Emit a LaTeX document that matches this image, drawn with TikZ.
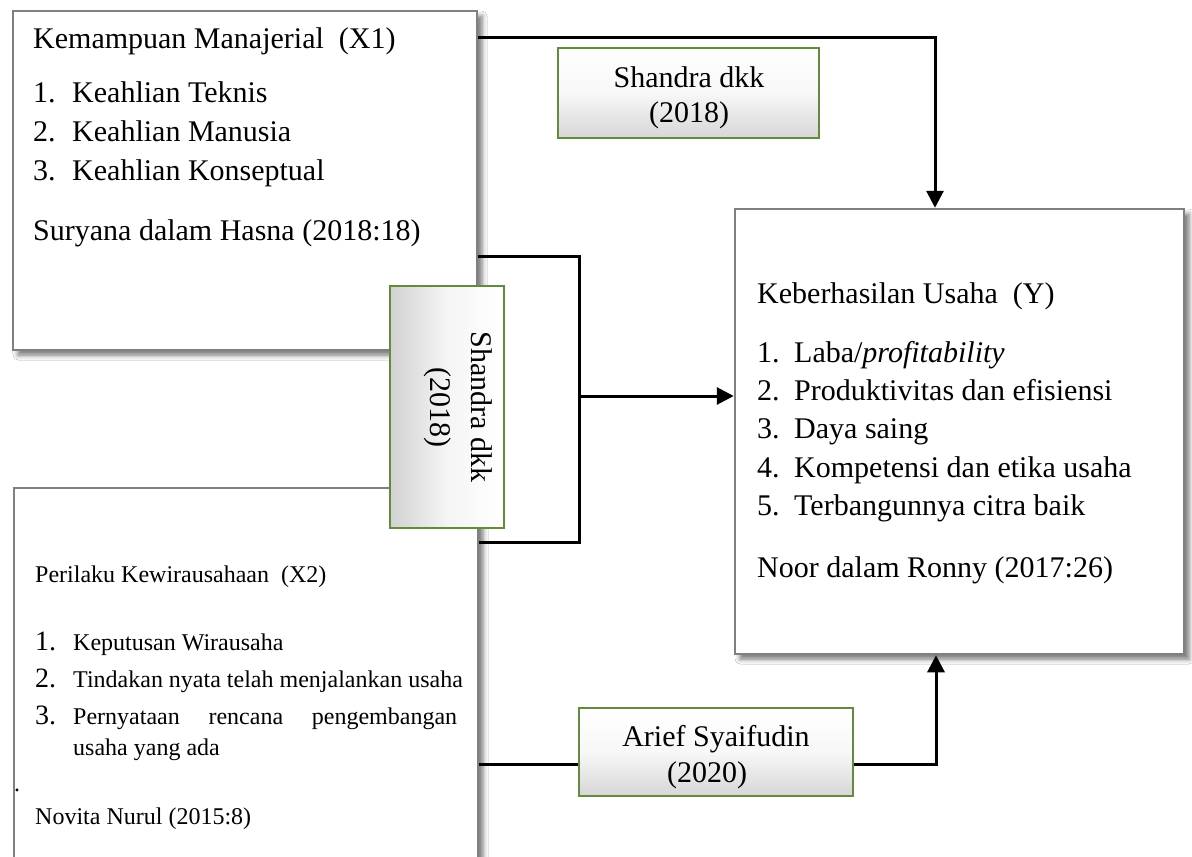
\documentclass[tikz,border=0pt]{standalone}
\usepackage{fontspec}
\usepackage{graphicx}
\setmainfont{Liberation Serif}
\usetikzlibrary{arrows.meta,shadows.blur}
\definecolor{boxgray}{RGB}{128,128,128}
\definecolor{lblgreen}{RGB}{98,140,58}
\tikzset{
  bigbox/.style={draw=boxgray, line width=2.5pt, fill=white, rectangle, inner sep=0pt,
    blur shadow={shadow xshift=5pt, shadow yshift=-5pt, shadow blur radius=5pt, shadow opacity=55}},
  lbl/.style={draw=lblgreen, line width=2.5pt, inner sep=0pt, rectangle},
  hlbl/.style={lbl, top color=white, bottom color=black!16, middle color=black!3},
  vlbl/.style={lbl, left color=black!18, right color=white, middle color=black!4},
  ltxt/.style={anchor=base, inner sep=0pt, font=\fontsize{30}{35}\selectfont},
  txt/.style={anchor=base west, inner sep=0pt, font=\fontsize{30}{36}\selectfont},
  stxt/.style={anchor=base west, inner sep=0pt, font=\fontsize{24}{28}\selectfont},
  ntxt/.style={anchor=base west, inner sep=0pt, font=\fontsize{28}{30}\selectfont},
  conn/.style={line width=3pt, black},
  arr/.style={conn, -{Triangle[length=17pt 0 0,width=17pt 0 0]}},
}
\begin{document}
\begin{tikzpicture}[x=1pt,y=-1pt]
\path[use as bounding box] (0,0) rectangle (1192,857);
\fill[white] (0,0) rectangle (1192,857);
\clip (0,0) rectangle (1192,857);

% main boxes
\node[bigbox, minimum width=464pt, minimum height=339pt] (x1) at (245,180.5) {};
\node[bigbox, minimum width=464pt, minimum height=400pt] (x2) at (246,688) {};
\node[bigbox, minimum width=449pt, minimum height=445pt] (y) at (959.5,431.5) {};

% X1 text
\node[txt] (x1t) at (33,48) {Kemampuan Manajerial\ \ (X1)};
\node[txt] (x1n1) at (33,102) {1.};
\node[txt] (x1i1) at (72,102) {Keahlian Teknis};
\node[txt] (x1n2) at (33,141) {2.};
\node[txt] (x1i2) at (72,141) {Keahlian Manusia};
\node[txt] (x1n3) at (33,180) {3.};
\node[txt] (x1i3) at (72,180) {Keahlian Konseptual};
\node[txt] (x1s) at (33,240) {Suryana dalam Hasna (2018:18)};

% Y text
\node[txt] (yt) at (757,303) {Keberhasilan Usaha\ \ (Y)};
\node[txt] (yn1) at (757,362) {1.};
\node[txt] (yi1) at (794,362) {Laba/\textit{profitability}};
\node[txt] (yn2) at (757,400) {2.};
\node[txt] (yi2) at (794,400) {Produktivitas dan efisiensi};
\node[txt] (yn3) at (757,438) {3.};
\node[txt] (yi3) at (794,438) {Daya saing};
\node[txt] (yn4) at (757,477) {4.};
\node[txt] (yi4) at (794,477) {Kompetensi dan etika usaha};
\node[txt] (yn5) at (757,515) {5.};
\node[txt] (yi5) at (794,515) {Terbangunnya citra baik};
\node[txt] (ys) at (757,577) {Noor dalam Ronny (2017:26)};

% X2 text
\node[stxt] (x2t) at (35,582) {Perilaku Kewirausahaan\ \ (X2)};
\node[ntxt] (x2n1) at (35,650) {1.};
\node[stxt] (x2i1) at (73,650) {Keputusan Wirausaha};
\node[ntxt] (x2n2) at (35,687) {2.};
\node[stxt] (x2i2) at (73,687) {Tindakan nyata telah menjalankan usaha};
\node[ntxt] (x2n3) at (35,724) {3.};
\node[stxt] (x2i3) at (73,724) {\makebox[384pt][s]{Pernyataan rencana pengembangan}};
\node[stxt] (x2i3b) at (73,755) {usaha yang ada};
\node[stxt] (x2dot) at (14,791) {.};
\node[stxt] (x2s) at (35,824) {Novita Nurul (2015:8)};

% connectors
\coordinate (b1) at (935,37);
\draw[arr] (x1.east |- b1) -- (b1) -- (b1 |- y.north);
\coordinate (b2) at (579,256);
\coordinate (b3) at (579,542);
\draw[conn] (x1.east |- b2) -- (b2) -- (b3) -- (x2.east |- b3);
\coordinate (b4) at (579,396);
\draw[arr] (b4) -- (b4 -| y.west);
\coordinate (b5) at (936,764);
\node[hlbl, minimum width=274pt, minimum height=88pt] (ar) at (716,752) {};
\draw[conn] (x2.east |- b5) -- (ar.west |- b5);
\draw[arr] (ar.east |- b5) -- (b5) -- (b5 |- y.south);
\node[ltxt] (art1) at (716,746) {Arief Syaifudin};
\node[ltxt] (art2) at (707,782) {(2020)};

% label boxes
\node[hlbl, minimum width=261pt, minimum height=90pt] (sh1) at (688.5,93) {};
\node[ltxt] (sh1a) at (689,87) {Shandra dkk};
\node[ltxt] (sh1b) at (689,122) {(2018)};
\node[vlbl, minimum width=114pt, minimum height=242pt] (sh2) at (447,407) {};
\node[inner sep=0pt, font=\fontsize{30}{35}\selectfont] (sh2t) at (458,407)
  {\rotatebox[origin=c]{-90}{\begin{tabular}{@{}c@{}}Shandra dkk\\[6pt](2018)\end{tabular}}};
\end{tikzpicture}
\end{document}
